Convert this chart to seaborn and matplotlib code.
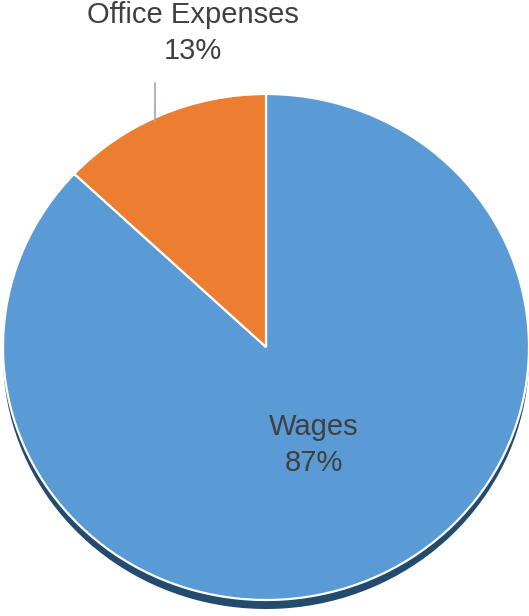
import matplotlib
matplotlib.use("Agg")
import matplotlib.pyplot as plt
import seaborn as sns

# Expense breakdown
categories = ["Wages", "Office Expenses"]
shares = [87, 13]
pct_labels = ["87%", "13%"]

sns.set_theme(style="white")
plt.rcParams["font.family"] = ["Liberation Sans", "DejaVu Sans"]

palette = ["#5B9BD5", "#ED7D31"]
shadow_color = "#234B6E"
text_color = "#404040"

W, H = 529, 616
fig = plt.figure(figsize=(W / 100, H / 100), dpi=100)
ax = fig.add_axes([0, 0, 1, 1])

# pixel geometry of the (slightly flattened) pie
cx, cy = 266, 347
rx, ry = 263, 253

def to_data(px, py):
    return (px - cx) / rx, (cy - py) / ry

# extruded base below the top face
depth = 9 / ry
ax.pie(shares, startangle=90, counterclock=False, radius=1.0,
       center=(0, -depth), colors=[shadow_color, shadow_color],
       wedgeprops=dict(linewidth=0), normalize=True)

# top face
ax.pie(shares, startangle=90, counterclock=False, radius=1.0,
       center=(0, 0), colors=palette,
       wedgeprops=dict(edgecolor="white", linewidth=1.6), normalize=True)

ax.set_aspect("auto")
ax.set_xlim(to_data(0, 0)[0], to_data(W, 0)[0])
ax.set_ylim(to_data(0, H)[1], to_data(0, 0)[1])
ax.axis("off")

# data labels
x, y = to_data(314, 445)
ax.text(x, y, f"{categories[0]}\n{pct_labels[0]}", ha="center", va="center",
        fontsize=21, color=text_color, linespacing=1.38)

x, y = to_data(193, 33)
ax.text(x, y, f"{categories[1]}\n{pct_labels[1]}", ha="center", va="center",
        fontsize=21, color=text_color, linespacing=1.38)

# leader line for the small slice
x0, y0 = to_data(155, 83)
x1, y1 = to_data(155, 121)
ax.plot([x0, x1], [y0, y1], color="#A6A6A6", linewidth=1.2)

fig.savefig("out.png", dpi=100, facecolor="white")
